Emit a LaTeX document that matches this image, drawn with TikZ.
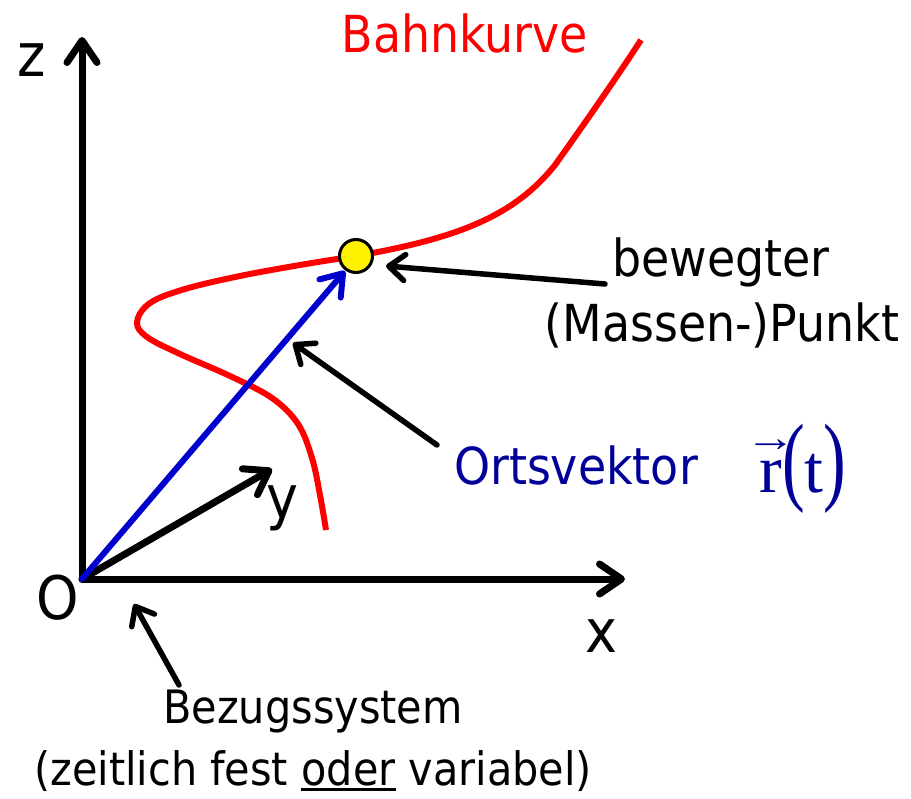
\documentclass[tikz,border=0pt]{standalone}
\usepackage{fontspec}
\setmainfont[FakeStretch=0.9]{DejaVu Sans}
\newfontfamily\serifr{Liberation Serif}
\usetikzlibrary{arrows.meta}
\definecolor{curvered}{RGB}{255,0,0}
\definecolor{vecblue}{RGB}{0,0,204}
\definecolor{txtblue}{RGB}{0,0,153}
\newcommand\ulword[1]{\setbox0\hbox{#1}\rlap{\raisebox{-6pt}{\rule{\wd0}{3pt}}}\box0\relax}
\tikzset{
  axisline/.style={line width=7pt, line cap=round, -{Straight Barb[length=22pt,width=30pt,round]}},
  pointer/.style={line width=5.5pt, line cap=round, -{Straight Barb[length=16pt,width=26pt,round]}},
  vecline/.style={vecblue, line width=6pt, line cap=round, -{Straight Barb[length=20pt,width=28pt,round]}},
  curve/.style={curvered, line width=6pt},
  lbl/.style={font=\fontsize{51}{60}\selectfont, inner sep=0pt},
  axlbl/.style={font=\fontsize{60}{66}\selectfont, inner sep=0pt},
  small/.style={font=\fontsize{46}{54}\selectfont, inner sep=0pt},
}
\begin{document}
\begin{tikzpicture}[x=1pt,y=-1pt]
\useasboundingbox (0,0) rectangle (911,799);
% coordinates
\coordinate (o) at (82,579);
\coordinate (ztip) at (82,37);
\coordinate (xtip) at (625,579);
\coordinate (ytip) at (272,469);
\coordinate (vtip) at (345,271);
\coordinate (cmid) at (356,256);
% axes
\draw[axisline] (o) -- (ztip);
\draw[axisline] (o) -- (xtip);
\draw[axisline] (o) -- (ytip);
% curve
\draw[curve] (cmid) .. controls (460,238) and (515,215) .. (555,165)
  .. controls (580,130) and (615,80) .. (641,40);
\draw[curve] plot[smooth, tension=0.6] coordinates {(356,256) (300,265) (240,276) (185,289) (150,303) (137,322) (147,337) (180,354) (230,376) (272,398) (298,424) (312,458) (320,495) (326,530)};
% position vector
\draw[vecline] (o) -- (vtip);
% point
\node[circle, fill=yellow, draw=black, line width=3pt, minimum size=33pt, inner sep=0pt] (pt) at (cmid) {};
% labels
\node[lbl, curvered] (bahn) at (465,33) {Bahnkurve};
\node[axlbl] (zl) at (32,60) {z};
\node[axlbl] (xl) at (601,636) {x};
\node[axlbl] (yl) at (282,508) {y};
\node[axlbl] (ol) at (58,598) {O};
\node[lbl] (bew) at (721,262) {bewegter};
\node[lbl] (mp) at (722,325) {(Massen-)Punkt};
\node[lbl, txtblue] (orts) at (576,465) {Ortsvektor};
\node[inner sep=0pt, txtblue, font=\serifr\fontsize{68}{74}\selectfont] (rt) at (803,469)
  {\ooalign{r\cr\hidewidth\raisebox{0.6em}{\scalebox{0.75}[0.6]{→}}\hidewidth\cr}\scalebox{1}[1.45]{(}t\scalebox{1}[1.45]{)}};
\node[small] (bez) at (313,712) {Bezugssystem};
\node[small] (zeit) at (313,771) {(zeitlich fest \ulword{oder} variabel)};
% pointers
\coordinate (p1s) at (605,284);
\coordinate (p1e) at (386,266);
\coordinate (p2s) at (437,445);
\coordinate (p2e) at (293,343);
\coordinate (p3s) at (179,685);
\coordinate (p3e) at (134,604);
\draw[pointer] (p1s) -- (p1e);
\draw[pointer] (p2s) -- (p2e);
\draw[pointer] (p3s) -- (p3e);
\end{tikzpicture}
\end{document}
